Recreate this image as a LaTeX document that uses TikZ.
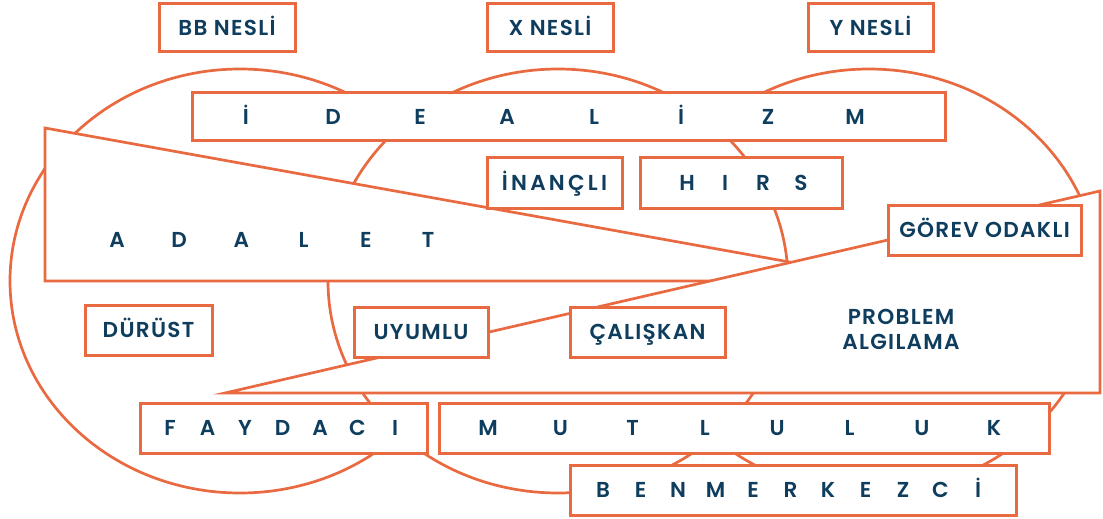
\documentclass[tikz,border=0pt]{standalone}
\usepackage{fontspec}
\setmainfont{Poppins}[UprightFont=* SemiBold]
\usepackage{tikz}
\definecolor{gOrange}{HTML}{E96A41}
\definecolor{gNavy}{HTML}{0E3D5E}

\newcommand\lblfont{\fontsize{10.8}{13}\selectfont\addfontfeature{LetterSpace=6}}

\tikzset{
  lbl/.style={draw=gOrange,line width=1.5pt,fill=white,text=gNavy,inner sep=0pt,
    text height=7.5pt,text depth=0pt,font=\lblfont},
  chr/.style={text=gNavy,inner sep=0pt,text height=7.5pt,text depth=0pt,
    font=\lblfont},
  zone/.style={draw=gOrange,line width=1.35pt,fill=white,line join=miter},
}

\begin{document}
\begin{tikzpicture}[x=0.5pt,y=-0.5pt]
\useasboundingbox (0,0) rectangle (1103,519);

\def\rx{115pt}
\def\ry{106pt}

% generations
\draw[zone] (240,281) ellipse [x radius=\rx,y radius=\ry];
\draw[zone] (869,281) ellipse [x radius=\rx,y radius=\ry];
\draw[zone] (558,281) ellipse [x radius=\rx,y radius=\ry];

% wedges
\draw[zone] (45,128) -- (895,281) -- (45,281) -- cycle;
\draw[zone] (1100,191) -- (1100,393) -- (225,393) -- cycle;

% headings
\node[lbl,minimum width=68pt,minimum height=24pt] (bb) at (227,28) {BB NESLİ};
\node[lbl,minimum width=63pt,minimum height=24pt] (xg) at (550,28) {X NESLİ};
\node[lbl,minimum width=62.5pt,minimum height=24pt] (yg) at (870.5,28) {Y NESLİ};

% boxes
\node[lbl,minimum width=376.5pt,minimum height=24pt] (ideal) at (568.5,117) {};
\node[lbl,minimum width=67.5pt,minimum height=25pt] (inancli) at (554.5,183)
  {\addfontfeature{LetterSpace=15}İNANÇLI};
\node[lbl,minimum width=101pt,minimum height=25pt] (hirs) at (741,183) {};
\node[lbl,minimum width=96.5pt,minimum height=25pt] (gorev) at (984.5,230) {GÖREV ODAKLI};
\node[lbl,minimum width=63.5pt,minimum height=25pt] (durust) at (148.5,330) {DÜRÜST};
\node[lbl,minimum width=67pt,minimum height=25pt] (uyumlu) at (421,332) {UYUMLU};
\node[lbl,minimum width=77.5pt,minimum height=25pt] (caliskan) at (647.5,332) {ÇALIŞKAN};
\node[lbl,minimum width=143.5pt,minimum height=25pt] (faydaci) at (283.5,428) {};
\node[lbl,minimum width=305pt,minimum height=25pt] (mutluluk) at (744,428) {};
\node[lbl,minimum width=223pt,minimum height=25pt] (benmerkezci) at (793,490) {};

% spaced words
\foreach \c [count=\i from 0] in {İ,D,E,A,L,İ,Z,M}
  \node[chr] (ideal\i) at ({246+87*\i},117) {\c};
\foreach \c [count=\i from 0] in {H,I,R,S}
  \node[chr] (hirs\i) at ({687+38*\i},183) {\c};
\foreach \c [count=\i from 0] in {A,D,A,L,E,T}
  \node[chr] (adalet\i) at ({117+62.2*\i},240) {\c};
\foreach \c [count=\i from 0] in {F,A,Y,D,A,C,I}
  \node[chr] (faydaci\i) at ({170+37.5*\i},428) {\c};
\foreach \c [count=\i from 0] in {M,U,T,L,U,L,U,K}
  \node[chr] (mutluluk\i) at ({488+72.3*\i},428) {\c};
\foreach \c [count=\i from 0] in {B,E,N,M,E,R,K,E,Z,C,İ}
  \node[chr] (benmerkezci\i) at ({603+37.5*\i},490) {\c};

\node[text=gNavy,inner sep=0pt,align=center,font=\lblfont]
  (problem) at (901,329.5) {PROBLEM\\[-0.5pt]ALGILAMA};

\end{tikzpicture}
\end{document}
